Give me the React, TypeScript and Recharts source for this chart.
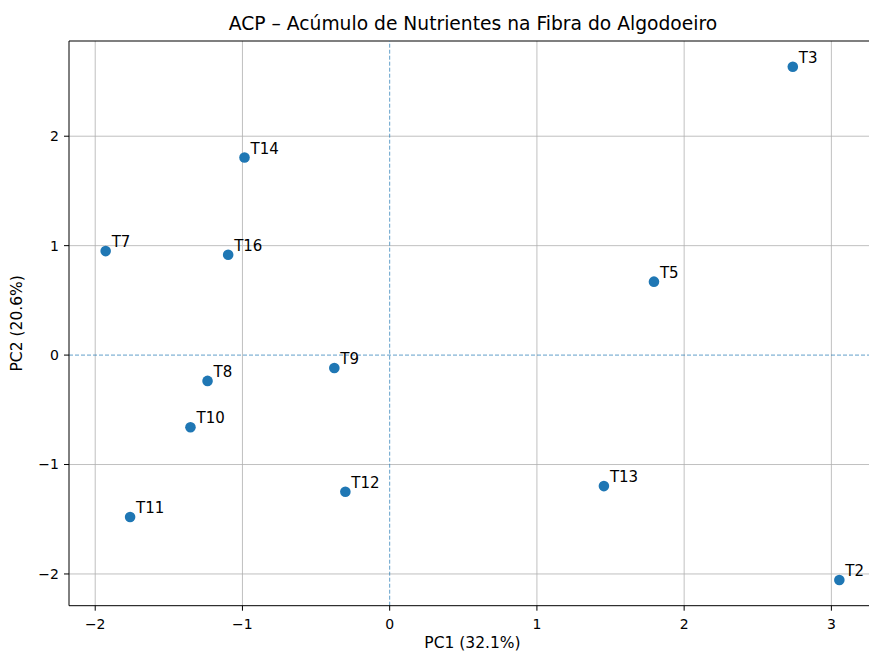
import React from "react";
import {
  ScatterChart,
  Scatter,
  XAxis,
  YAxis,
  CartesianGrid,
  ReferenceLine,
  Label,
} from "recharts";

const labels = ["T2", "T3", "T5", "T7", "T8", "T9", "T10", "T11", "T12", "T13", "T14", "T16"];
const pc1 = [3.054, 2.738, 1.795, -1.929, -1.237, -0.376, -1.353, -1.763, -0.301, 1.455, -0.986, -1.097];
const pc2 = [-2.055, 2.635, 0.671, 0.95, -0.236, -0.118, -0.659, -1.48, -1.249, -1.197, 1.805, 0.917];

const xTicks = [-2, -1, 0, 1, 2, 3];
const yTicks = [-2, -1, 0, 1, 2];
const xDomain = [-2.178, 3.303];
const yDomain = [-2.29, 2.87];

const data = labels.map((name, i) => ({ name, x: pc1[i], y: pc2[i] }));

const FONT = "DejaVu Sans, sans-serif";
const fmt = (v: number) => String(v).replace("-", "\u2212");

const PointShape = (props: any) => {
  const { cx, cy, payload } = props;
  return (
    <g>
      <circle cx={cx} cy={cy} r={5.3} fill="#1f77b4" />
      <text x={cx + 6} y={cy - 4} fontSize={15} fontFamily={FONT} fill="#000">
        {payload.name}
      </text>
    </g>
  );
};

export default function App() {
  return (
    <div
      style={{
        position: "absolute",
        left: 0,
        top: 0,
        width: 869,
        height: 652,
        overflow: "hidden",
        background: "#fff",
      }}
    >
      <ScatterChart
        width={890}
        height={652}
        margin={{ top: 41, right: 14, left: 0, bottom: 0 }}
        style={{ fontFamily: FONT }}
      >
        <text
          x={473}
          y={30}
          textAnchor="middle"
          fontSize={18.7}
          fontFamily={FONT}
          fill="#000"
        >
          ACP – Acúmulo de Nutrientes na Fibra do Algodoeiro
        </text>
        <CartesianGrid
          stroke="#b0b0b0"
          strokeWidth={0.8}
          horizontalValues={yTicks.filter((v) => v !== 0)}
          verticalValues={xTicks.filter((v) => v !== 0)}
        />
        <XAxis
          type="number"
          dataKey="x"
          domain={xDomain}
          ticks={xTicks}
          allowDataOverflow
          height={46.3}
          tickSize={5}
          tickMargin={8}
          tickFormatter={fmt}
          stroke="#000"
          tick={{ fill: "#000", fontSize: 14, fontFamily: FONT }}
          axisLine={{ stroke: "#000", strokeWidth: 1 }}
        >
          <Label
            value="PC1 (32.1%)"
            position="insideBottom"
            offset={4}
            style={{ fontSize: 15.5, fontFamily: FONT, fill: "#000" }}
          />
        </XAxis>
        <YAxis
          type="number"
          dataKey="y"
          domain={yDomain}
          ticks={yTicks}
          allowDataOverflow
          width={69}
          tickSize={5}
          tickMargin={5}
          tickFormatter={fmt}
          stroke="#000"
          tick={{ fill: "#000", fontSize: 14, fontFamily: FONT }}
          axisLine={{ stroke: "#000", strokeWidth: 1 }}
        >
          <Label
            value="PC2 (20.6%)"
            angle={-90}
            position="insideLeft"
            offset={17}
            style={{ fontSize: 15.5, fontFamily: FONT, fill: "#000", textAnchor: "middle" }}
          />
        </YAxis>
        <ReferenceLine y={yDomain[1]} stroke="#000" strokeWidth={1.2} ifOverflow="visible" />
        <ReferenceLine x={0} stroke="#1f77b4" strokeOpacity={0.7} strokeWidth={1} strokeDasharray="4 2" />
        <ReferenceLine y={0} stroke="#1f77b4" strokeOpacity={0.7} strokeWidth={1} strokeDasharray="4 2" />
        <Scatter data={data} shape={PointShape} isAnimationActive={false} />
      </ScatterChart>
    </div>
  );
}
